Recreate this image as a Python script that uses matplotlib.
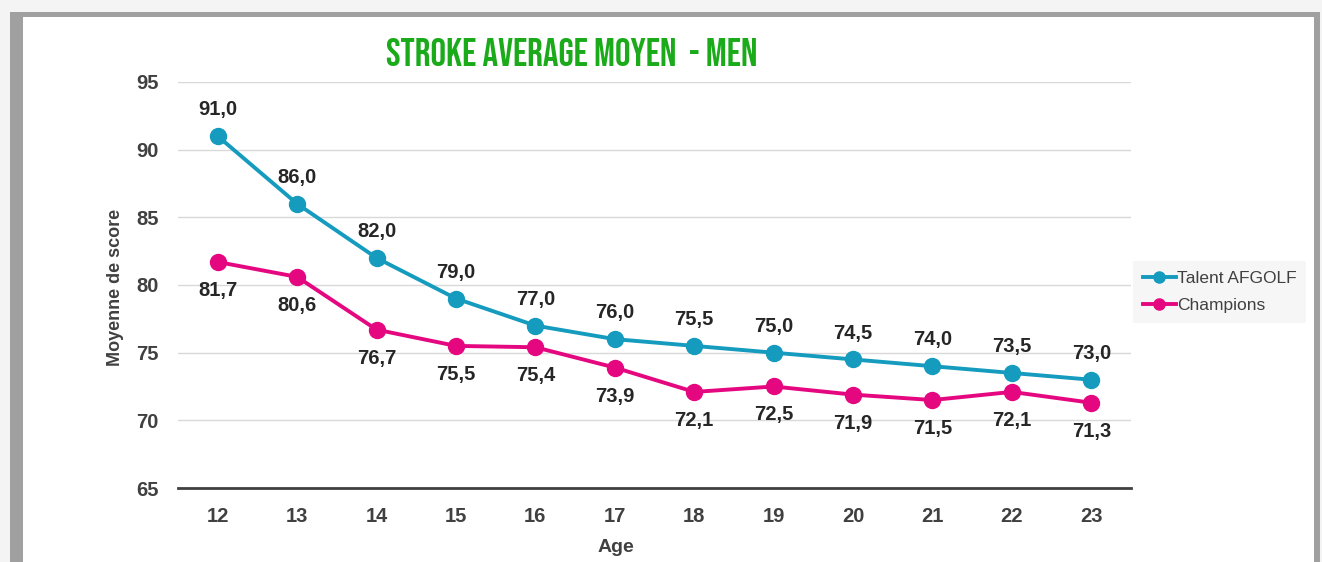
"""
Stroke average moyen - men : reproduction du graphique
"""
import matplotlib.pyplot as plt
import matplotlib.patches as patches

# Données
ages = ['12', '13', '14', '15', '16', '17', '18', '19', '20', '21', '22', '23']
talent_afgolf = [91.0, 86.0, 82.0, 79.0, 77.0, 76.0, 75.5, 75.0, 74.5, 74.0, 73.5, 73.0]
champions = [81.7, 80.6, 76.7, 75.5, 75.4, 73.9, 72.1, 72.5, 71.9, 71.5, 72.1, 71.3]
y_ticks = [65, 70, 75, 80, 85, 90, 95]

TEAL = '#159bbe'
MAGENTA = '#e5077f'
GREEN = '#1aaa1a'
DARK = '#404040'

plt.rcParams['font.family'] = ['Liberation Sans', 'DejaVu Sans']

fig = plt.figure(figsize=(13.22, 5.62), dpi=100)
fig.patch.set_facecolor('#f4f4f4')

# cadre avec ombre
shadow = patches.Rectangle((10 / 1322, -0.1), 1310 / 1322, 1 - 12 / 562 + 0.1,
                           transform=fig.transFigure, facecolor='#a0a0a0',
                           edgecolor='none', zorder=-3)
panel = patches.Rectangle((23 / 1322, -0.1), 1291 / 1322, 1 - 17 / 562 + 0.1,
                          transform=fig.transFigure, facecolor='white',
                          edgecolor='none', zorder=-2)
fig.add_artist(shadow)
fig.add_artist(panel)

ax = fig.add_axes([178 / 1322, 1 - 488 / 562, (1131 - 178) / 1322, (488 - 82) / 562])
ax.set_facecolor('none')
ax.set_zorder(1)

x = list(range(len(ages)))
ax.plot(x, talent_afgolf, color=TEAL, lw=2.8, marker='o', ms=11.5,
        label='Talent AFGOLF', zorder=3)
ax.plot(x, champions, color=MAGENTA, lw=2.8, marker='o', ms=11.5,
        label='Champions', zorder=3)

# étiquettes de données
for i, v in enumerate(talent_afgolf):
    ax.annotate(f"{v:.1f}".replace('.', ','), (i, v), xytext=(0, 19),
                textcoords='offset points', ha='center', va='center',
                fontsize=14.5, fontweight='bold', color='#262626')
for i, v in enumerate(champions):
    ax.annotate(f"{v:.1f}".replace('.', ','), (i, v), xytext=(0, -20.5),
                textcoords='offset points', ha='center', va='center',
                fontsize=14.5, fontweight='bold', color='#262626')

ax.set_xlim(-0.5, len(ages) - 0.5)
ax.set_ylim(65, 95)
ax.set_xticks(x)
ax.set_xticklabels(ages)
ax.set_yticks(y_ticks)
ax.tick_params(axis='y', length=0, labelsize=14.5, labelcolor=DARK, pad=14)
ax.tick_params(axis='x', length=0, labelsize=14.5, labelcolor=DARK, pad=14)
for lab in ax.get_xticklabels() + ax.get_yticklabels():
    lab.set_fontweight('bold')

ax.grid(axis='y', color='#d9d9d9', lw=1)
ax.set_axisbelow(True)
for side in ['top', 'right', 'left']:
    ax.spines[side].set_visible(False)
ax.spines['bottom'].set_color(DARK)
ax.spines['bottom'].set_linewidth(2)

ax.set_xlabel('Age', fontsize=14, fontweight='bold', color=DARK)
ax.xaxis.set_label_coords((616 - 178) / (1131 - 178), -(539 - 488) / (488 - 82))
ax.set_ylabel('Moyenne de score', fontsize=13, fontweight='bold', color=DARK)
ax.yaxis.set_label_coords(-(178 - 124) / (1131 - 178), (488 - 287) / (488 - 82))

fig.text(572 / 1322, 1 - 52 / 562, 'STROKE AVERAGE MOYEN  - MEN', ha='center', va='center',
         fontsize=28, color=GREEN,
         family=['Bebas Neue', 'Oswald', 'Barlow Condensed', 'DejaVu Sans'])

leg = ax.legend(loc='center left', bbox_to_anchor=(1133 / 1322, 1 - 292 / 562),
                bbox_transform=fig.transFigure, frameon=True, fontsize=12.5,
                handlelength=1.9, handletextpad=0.1, borderpad=0.55,
                labelspacing=0.7, borderaxespad=0)
leg.get_frame().set_facecolor('#f6f6f6')
leg.get_frame().set_edgecolor('none')
leg.get_frame().set_alpha(1)
leg.get_frame().set_boxstyle('square', pad=0)
for t in leg.get_texts():
    t.set_color(DARK)
for h in leg.get_lines():
    h.set_markersize(8)

plt.savefig('out.png', dpi=100)
plt.close()
